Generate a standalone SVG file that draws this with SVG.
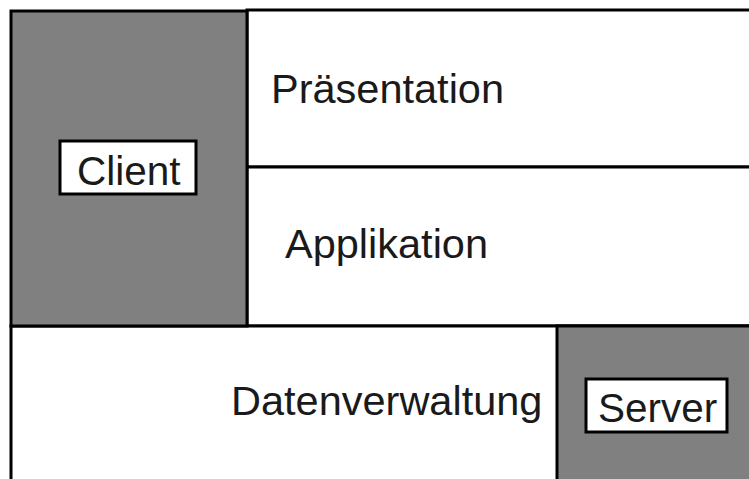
<svg xmlns="http://www.w3.org/2000/svg" width="749" height="479" viewBox="0 0 749 479">
  <style>
    .tier { fill: #ffffff; stroke: #000000; stroke-width: 3; }
    .host { fill: #808080; stroke: #000000; stroke-width: 3; }
    .tag { fill: #ffffff; stroke: #000000; stroke-width: 3; }
    .lbl { font-family: "Liberation Sans", Arial, sans-serif; font-size: 41.5px; fill: #1a1a1a; }
    .lbl.small { font-size: 40.5px; }
  </style>
  <rect width="749" height="479" fill="#ffffff"/>

  <!-- tiers -->
  <g id="praesentation">
    <rect class="tier" x="247" y="10" width="510" height="157"/>
    <text class="lbl" x="271" y="103">Präsentation</text>
  </g>
  <g id="applikation">
    <rect class="tier" x="247" y="167" width="510" height="159"/>
    <text class="lbl" x="285" y="258">Applikation</text>
  </g>
  <g id="datenverwaltung">
    <rect class="tier" x="11" y="326" width="746" height="165"/>
    <text class="lbl" x="231" y="415">Datenverwaltung</text>
  </g>

  <!-- hosts -->
  <g id="client">
    <rect class="host" x="11" y="11" width="236" height="315"/>
    <rect class="tag" x="60" y="141" width="136" height="53"/>
    <text class="lbl small" x="77" y="185">Client</text>
  </g>
  <g id="server">
    <rect class="host" x="557" y="326" width="200" height="165"/>
    <rect class="tag" x="586" y="379" width="141" height="53"/>
    <text class="lbl small" x="598" y="422">Server</text>
  </g>

  <g id="connectors"></g>
</svg>
